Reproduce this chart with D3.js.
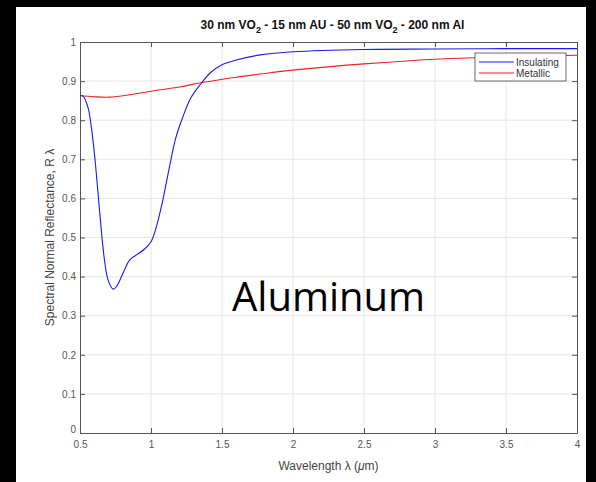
<!DOCTYPE html>
<html>
<head>
<meta charset="utf-8">
<script src="https://cdn.jsdelivr.net/npm/d3@7"></script>
<style>
  body { margin: 0; background: #000; }
  text { font-family: "Liberation Sans", Arial, sans-serif; }
</style>
</head>
<body>
<div id="viz"></div>
<script>
// wavelength (um) and reflectance
var insulatingX = [0.5, 0.523, 0.558, 0.581, 0.605, 0.628, 0.651, 0.674, 0.698, 0.733, 0.756, 0.802, 0.849, 0.895, 0.953, 1.0, 1.035, 1.081, 1.128, 1.174, 1.221, 1.279, 1.349, 1.42, 1.5, 1.6, 1.77, 2.0, 2.5, 3.0, 3.5, 4.0];
var insulatingY = [0.863, 0.861, 0.830, 0.779, 0.702, 0.609, 0.515, 0.438, 0.391, 0.368, 0.374, 0.408, 0.442, 0.455, 0.470, 0.489, 0.524, 0.592, 0.677, 0.754, 0.805, 0.856, 0.892, 0.922, 0.942, 0.954, 0.967, 0.975, 0.981, 0.982, 0.983, 0.983];
var metallicX = [0.5, 0.6, 0.71, 0.85, 1.0, 1.2, 1.37, 1.6, 1.77, 2.0, 2.5, 3.0, 3.5, 4.0];
var metallicY = [0.863, 0.860, 0.859, 0.865, 0.874, 0.885, 0.897, 0.91, 0.918, 0.928, 0.944, 0.956, 0.962, 0.966];
var xTicks = [0.5, 1, 1.5, 2, 2.5, 3, 3.5, 4];
var yTicks = [0, 0.1, 0.2, 0.3, 0.4, 0.5, 0.6, 0.7, 0.8, 0.9, 1];
var seriesNames = ["Insulating", "Metallic"];
var seriesColors = ["#1a1aee", "#ee2222"];

var width = 596, height = 482;
// plot box (note: "top" is reserved on window, so use m* names)
var mLeft = 80, mRight = 577, mTop = 42, mBottom = 433;

var svg = d3.select("#viz").append("svg")
  .attr("width", width)
  .attr("height", height);

// black frame and white figure
svg.append("rect").attr("width", width).attr("height", height).attr("fill", "#000");
svg.append("rect").attr("x", 16).attr("y", 7).attr("width", 570).attr("height", 475).attr("fill", "#fff");

var x = d3.scaleLinear().domain([0.5, 4]).range([mLeft, mRight]);
var y = d3.scaleLinear().domain([0, 1]).range([mBottom, mTop]);

// grid
svg.append("g").selectAll("line").data(xTicks.slice(1, -1)).enter().append("line")
  .attr("x1", function(d) { return x(d); }).attr("x2", function(d) { return x(d); })
  .attr("y1", mTop).attr("y2", mBottom)
  .attr("stroke", "#e6e6e6").attr("stroke-width", 1);
svg.append("g").selectAll("line").data(yTicks.slice(1, -1)).enter().append("line")
  .attr("y1", function(d) { return y(d); }).attr("y2", function(d) { return y(d); })
  .attr("x1", mLeft).attr("x2", mRight)
  .attr("stroke", "#e6e6e6").attr("stroke-width", 1);

// axes (ticks inward, MATLAB style)
var xAxis = svg.append("g").attr("transform", "translate(0," + mBottom + ")")
  .call(d3.axisBottom(x).tickValues(xTicks).tickSizeInner(-5).tickSizeOuter(0).tickPadding(8)
    .tickFormat(function(d) { return d; }));
var xTop = svg.append("g").attr("transform", "translate(0," + mTop + ")")
  .call(d3.axisTop(x).tickValues(xTicks).tickSizeInner(-5).tickSizeOuter(0).tickFormat(""));
var yAxis = svg.append("g").attr("transform", "translate(" + mLeft + ",0)")
  .call(d3.axisLeft(y).tickValues(yTicks).tickSizeInner(-5).tickSizeOuter(0).tickPadding(4)
    .tickFormat(function(d) { return d; }));
var yRight = svg.append("g").attr("transform", "translate(" + mRight + ",0)")
  .call(d3.axisRight(y).tickValues(yTicks).tickSizeInner(-5).tickSizeOuter(0).tickFormat(""));

[xAxis, xTop, yAxis, yRight].forEach(function(g) {
  g.select(".domain").attr("stroke", "#555").attr("stroke-width", 1);
  g.selectAll(".tick line").attr("stroke", "#555");
  g.selectAll(".tick text").attr("fill", "#555").style("font-size", "10px");
});
// the 0 label sits a bit higher so it clears the 0.5 below it
yAxis.selectAll(".tick text").filter(function(d) { return d === 0; }).attr("dy", "-0.1em");

// curves
var line = d3.line()
  .x(function(d) { return x(d[0]); })
  .y(function(d) { return y(d[1]); })
  .curve(d3.curveCatmullRom.alpha(0.5));

svg.append("path")
  .datum(metallicX.map(function(v, i) { return [v, metallicY[i]]; }))
  .attr("d", line).attr("fill", "none")
  .attr("stroke", seriesColors[1]).attr("stroke-width", 1.1);
svg.append("path")
  .datum(insulatingX.map(function(v, i) { return [v, insulatingY[i]]; }))
  .attr("d", line).attr("fill", "none")
  .attr("stroke", seriesColors[0]).attr("stroke-width", 1.1);

// legend
var lg = svg.append("g").attr("transform", "translate(475,53)");
lg.append("rect").attr("width", 91).attr("height", 28)
  .attr("fill", "#fff").attr("stroke", "#444").attr("stroke-width", 0.8);
seriesNames.forEach(function(name, i) {
  lg.append("line").attr("x1", 4).attr("x2", 39)
    .attr("y1", 9 + i * 11).attr("y2", 9 + i * 11)
    .attr("stroke", seriesColors[i]).attr("stroke-width", 1);
  lg.append("text").attr("x", 41).attr("y", 9 + i * 11).attr("dy", "0.35em")
    .attr("fill", "#333").style("font-size", "10px").text(name);
});

// title with subscripts
var title = svg.append("text")
  .attr("x", (mLeft + mRight) / 2 + 4).attr("y", 29)
  .attr("text-anchor", "middle")
  .style("font-size", "12px").style("font-weight", "bold").attr("fill", "#111");
title.append("tspan").text("30 nm VO");
title.append("tspan").attr("dy", 4).style("font-size", "9px").text("2");
title.append("tspan").attr("dy", -4).text(" - 15 nm AU - 50 nm VO");
title.append("tspan").attr("dy", 4).style("font-size", "9px").text("2");
title.append("tspan").attr("dy", -4).text(" - 200 nm Al");

// axis labels
var xl = svg.append("text")
  .attr("x", (mLeft + mRight) / 2).attr("y", 470)
  .attr("text-anchor", "middle").attr("fill", "#444").style("font-size", "12px");
xl.append("tspan").text("Wavelength \u03bb (");
xl.append("tspan").style("font-style", "italic").text("\u03bc");
xl.append("tspan").text("m)");

svg.append("text")
  .attr("transform", "translate(54," + ((mTop + mBottom) / 2) + ") rotate(-90)")
  .attr("text-anchor", "middle").attr("fill", "#444").style("font-size", "12px")
  .text("Spectral Normal Reflectance, R \u03bb");

// overlay annotation
svg.append("text")
  .attr("x", 232).attr("y", 311)
  .style("font-family", "'Open Sans', sans-serif").style("font-size", "40px")
  .attr("fill", "#000")
  .text("Aluminum");
</script>
</body>
</html>
